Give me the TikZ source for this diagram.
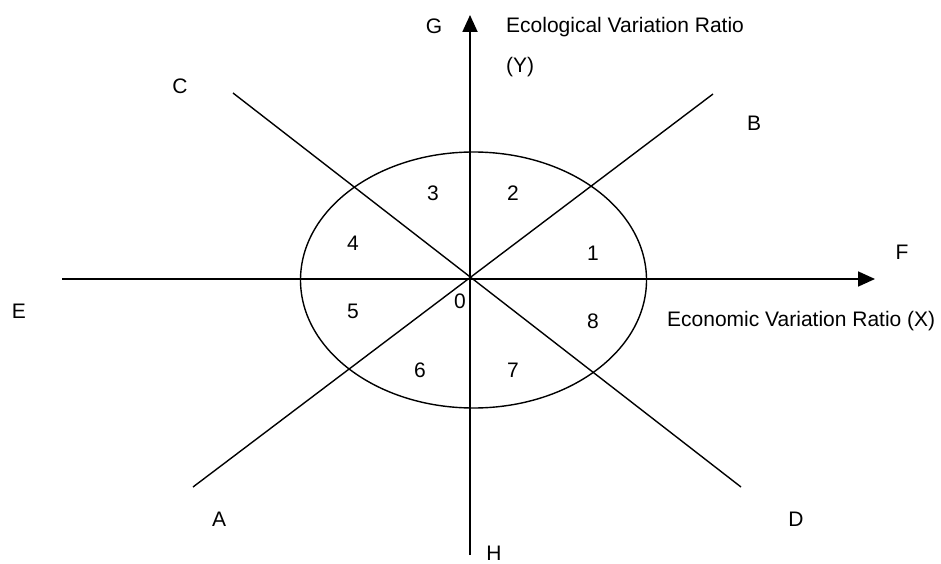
\documentclass[tikz,border=0pt]{standalone}
\usepackage{fontspec}
\setmainfont{Liberation Sans}
\usetikzlibrary{arrows.meta, positioning, calc}

\begin{document}
\begin{tikzpicture}[x=1pt, y=-1pt,
    axisline/.style={line width=1.8pt, -{Triangle[length=17pt, width=15pt]}},
    diagline/.style={line width=1.4pt},
    lbl/.style={font=\fontsize{21}{25}\selectfont, inner sep=0pt}]
  \useasboundingbox (0,0) rectangle (941,564);
  % Ejes y extremos de las rectas
  \coordinate (O) at (470,279);
  \coordinate (Eend) at (62,279);
  \coordinate (Ftip) at (875,279);
  \coordinate (Hend) at (470,555);
  \coordinate (Gtip) at (470,15);
  \coordinate (Cend) at (233,93);
  \coordinate (Dend) at (741,487);
  \coordinate (Aend) at (193,487);
  \coordinate (Bend) at (713,94);
  % Elipse central
  \draw[line width=1.4pt] (473.5,280) ellipse [x radius=173, y radius=128];
  % Rectas diagonales
  \draw[diagline] (Cend) -- (Dend);
  \draw[diagline] (Aend) -- (Bend);
  % Ejes con flecha
  \draw[axisline] (Eend) -- (Ftip);
  \draw[axisline] (Hend) -- (Gtip);
  % Letras de las direcciones
  \node[lbl] (G) at (434,26) {G};
  \node[lbl] (H) at (494,553) {H};
  \node[lbl] (E) at (19,311) {E};
  \node[lbl] (F) at (902,252) {F};
  \node[lbl] (C) at (180,86) {C};
  \node[lbl] (B) at (754,123) {B};
  \node[lbl] (A) at (219,519) {A};
  \node[lbl] (D) at (796,519) {D};
  % Nombres de los ejes
  \node[lbl, anchor=west] (ylab) at (506,27) {Ecological Variation Ratio};
  \node[lbl, anchor=west] (ysym) at (506,67) {(Y)};
  \node[lbl, anchor=west] (xlab) at (667,321) {Economic Variation Ratio (X)};
  % Sectores numerados
  \node[lbl] (s0) at (460,301) {0};
  \node[lbl] (s1) at (593,253) {1};
  \node[lbl] (s2) at (513,193) {2};
  \node[lbl] (s3) at (433,193) {3};
  \node[lbl] (s4) at (353,243) {4};
  \node[lbl] (s5) at (353,311) {5};
  \node[lbl] (s6) at (420,370) {6};
  \node[lbl] (s7) at (513,370) {7};
  \node[lbl] (s8) at (593,321) {8};
\end{tikzpicture}
\end{document}
